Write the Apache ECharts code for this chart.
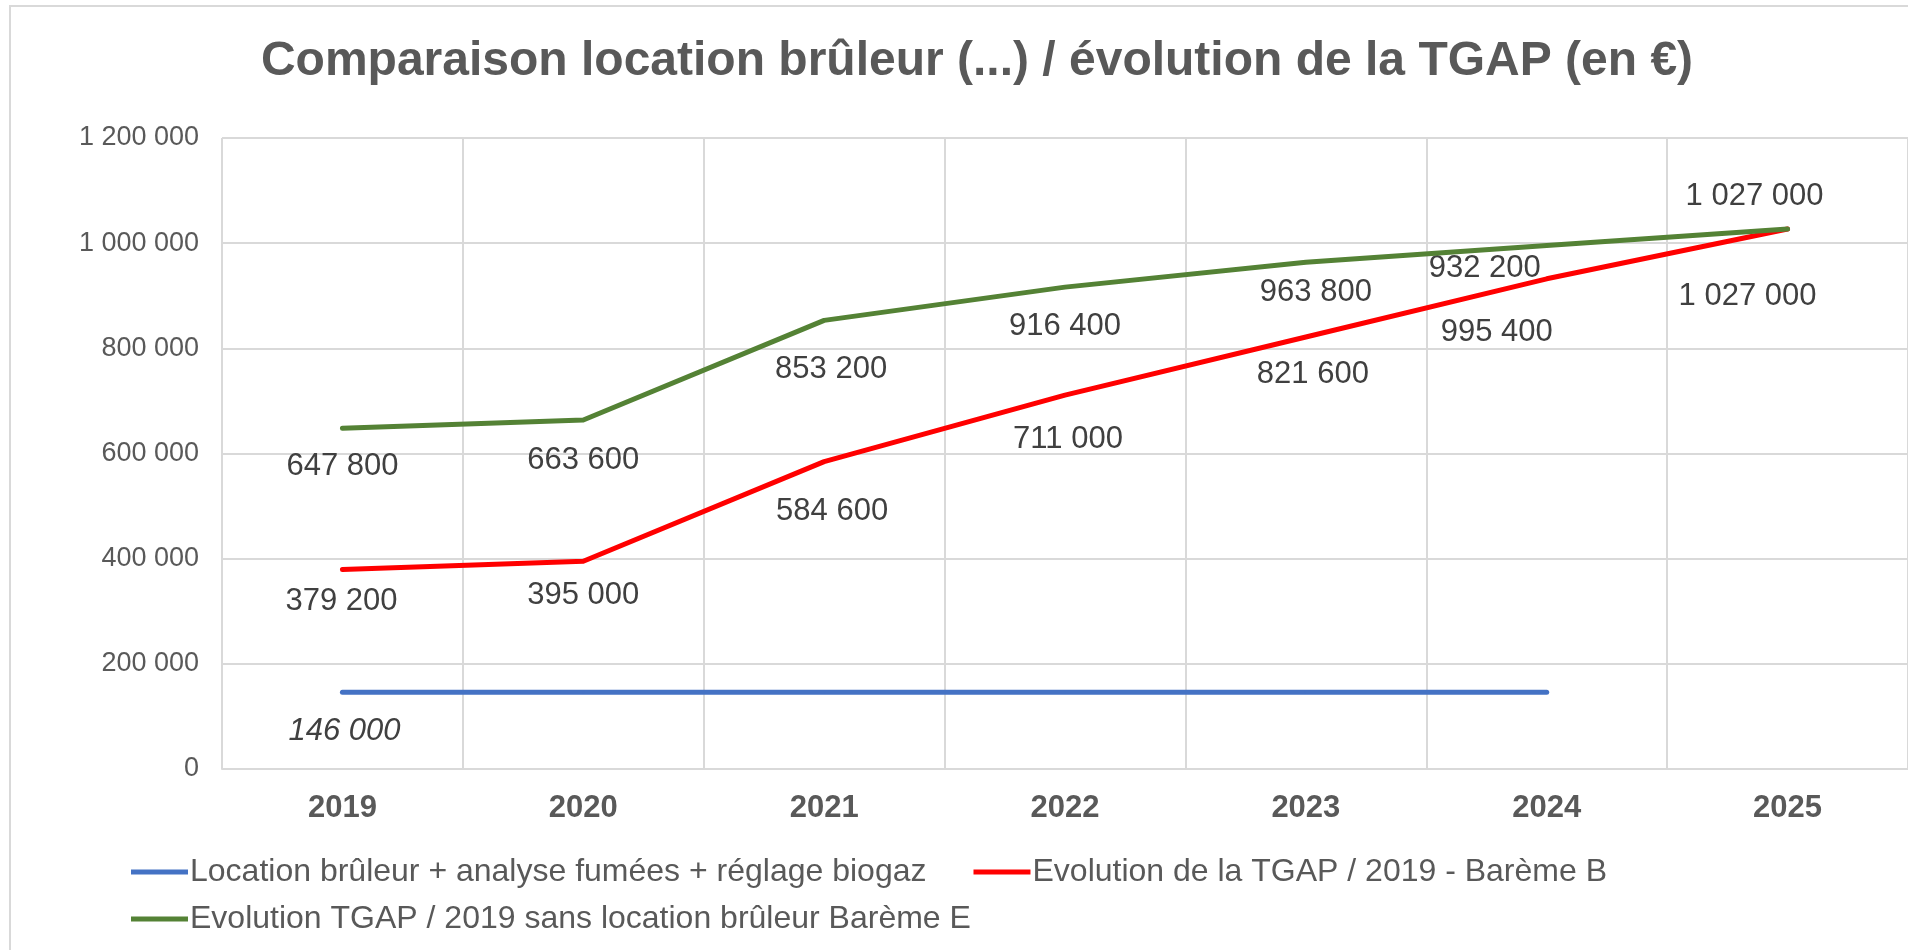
<!DOCTYPE html>
<html>
<head>
<meta charset="utf-8">
<script src="https://cdn.jsdelivr.net/npm/echarts@6/dist/echarts.min.js"></script>
<style>
html,body{margin:0;padding:0;background:#fff;}
#chart{width:1908px;height:950px;}
</style>
</head>
<body>
<div id="chart"></div>
<script>
const titleText = 'Comparaison location brûleur (...) / évolution de la TGAP (en €)';
const years = ['2019', '2020', '2021', '2022', '2023', '2024', '2025'];
const seriesNames = [
  'Location brûleur + analyse fumées + réglage biogaz',
  'Evolution de la TGAP / 2019 - Barème B',
  'Evolution TGAP / 2019 sans location brûleur Barème E'
];
const locationBruleur = [146000, 146000, 146000, 146000, 146000, 146000];
const tgapBaremeB = [379200, 395000, 584600, 711000, 821600, 932200, 1027000];
const tgapBaremeE = [647800, 663600, 853200, 916400, 963800, 995400, 1027000];
const yTicks = [0, 200000, 400000, 600000, 800000, 1000000, 1200000];

// label placement (style, px offsets from the point)
const offBlue = [[2, 39]];
const offRed = [[-1, 32], [0, 34], [8, 50], [3, 44], [7, 37], [-62, -10], [-40, 67]];
const offGreen = [[0, 38], [0, 40], [7, 49], [0, 39], [10, 30], [-50, 87], [-33, -33]];

const FONT = "'Liberation Sans', Arial, sans-serif";
const fmt = v => String(v).replace(/\B(?=(\d{3})+(?!\d))/g, ' ');
const SYM = 2;

function buildData(vals, offs, italic) {
  return vals.map((v, i) => {
    const o = offs[i];
    return {
      value: v,
      label: o ? {
        show: true,
        position: [SYM / 2 + o[0], SYM / 2 + o[1]],
        align: 'center',
        verticalAlign: 'middle',
        fontStyle: italic ? 'italic' : 'normal'
      } : { show: false }
    };
  });
}

const colors = ['#4472C4', '#FF0000', '#548235'];
const chart = echarts.init(document.getElementById('chart'), null, { renderer: 'canvas' });

const lineSeries = (name, vals, offs, color, italic, z) => ({
  name: name,
  type: 'line',
  data: buildData(vals, offs, italic),
  symbol: 'circle',
  symbolSize: SYM,
  showSymbol: true,
  z: z,
  itemStyle: { color: color },
  lineStyle: { color: color, width: 5, cap: 'round', join: 'round' },
  label: {
    show: true,
    align: 'center',
    verticalAlign: 'middle',
    fontFamily: FONT,
    fontSize: 31,
    color: '#404040',
    formatter: p => fmt(p.value)
  },
  labelLayout: { hideOverlap: false },
  emphasis: { disabled: true },
  animation: false
});

chart.setOption({
  animation: false,
  backgroundColor: '#ffffff',
  graphic: [{
    type: 'rect',
    shape: { x: 10, y: 6, width: 1920, height: 960 },
    style: { fill: 'none', stroke: '#D9D9D9', lineWidth: 2 },
    silent: true,
    z: -10
  }],
  title: {
    text: titleText,
    left: 972,
    top: 33,
    textAlign: 'center',
    textStyle: { fontFamily: FONT, fontSize: 48, fontWeight: 'bold', color: '#595959' }
  },
  legend: [{
    data: [seriesNames[0], seriesNames[1]],
    left: 131,
    top: 856,
    padding: 0,
    orient: 'horizontal',
    icon: 'rect',
    itemWidth: 57,
    itemHeight: 5,
    itemGap: 47,
    textStyle: { fontFamily: FONT, fontSize: 32, color: '#595959', padding: [0, 0, 0, -3] }
  }, {
    data: [seriesNames[2]],
    left: 131,
    top: 903,
    padding: 0,
    orient: 'horizontal',
    icon: 'rect',
    itemWidth: 57,
    itemHeight: 5,
    textStyle: { fontFamily: FONT, fontSize: 32, color: '#595959', padding: [0, 0, 0, -3] }
  }],
  grid: { left: 222, right: 0, top: 138, bottom: 181, containLabel: false },
  xAxis: {
    type: 'category',
    data: years,
    boundaryGap: true,
    axisLine: { show: true, lineStyle: { color: '#D9D9D9', width: 2 } },
    axisTick: { show: false },
    splitLine: { show: true, lineStyle: { color: '#D9D9D9', width: 2 } },
    axisLabel: { fontFamily: FONT, fontSize: 31, fontWeight: 'bold', color: '#595959', margin: 24 }
  },
  yAxis: {
    type: 'value',
    min: yTicks[0],
    max: yTicks[yTicks.length - 1],
    interval: yTicks[1] - yTicks[0],
    axisLine: { show: false },
    axisTick: { show: false },
    splitLine: { show: true, lineStyle: { color: '#D9D9D9', width: 2 } },
    axisLabel: { fontFamily: FONT, fontSize: 27, color: '#595959', margin: 23, formatter: v => fmt(v) }
  },
  series: [
    lineSeries(seriesNames[0], locationBruleur, offBlue, colors[0], true, 3),
    lineSeries(seriesNames[1], tgapBaremeB, offRed, colors[1], false, 4),
    lineSeries(seriesNames[2], tgapBaremeE, offGreen, colors[2], false, 5)
  ]
});
</script>
</body>
</html>
